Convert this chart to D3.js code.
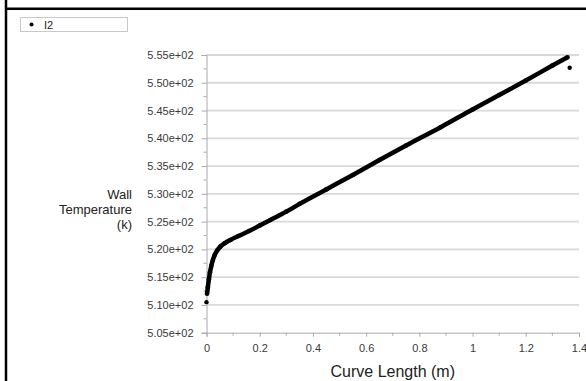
<!DOCTYPE html>
<html>
<head>
<meta charset="utf-8">
<script src="https://cdn.jsdelivr.net/npm/d3@7"></script>
<style>
  html, body { margin: 0; padding: 0; background: #fff; }
  svg { display: block; }
  text { font-family: "Liberation Sans", Arial, sans-serif; }
</style>
</head>
<body>
<svg id="chart" width="586" height="381"></svg>
<script>
// ---- data ----
const seriesName = "I2";
const curveX = [0.002, 0.005, 0.009, 0.013, 0.018, 0.024, 0.031, 0.040, 0.052, 0.068, 0.09, 0.12, 0.16, 0.20, 0.24, 0.30, 0.35, 0.45, 0.55, 0.65, 0.75, 0.88, 1.0, 1.1, 1.2, 1.3, 1.357];
const curveT = [512.0, 513.2, 514.6, 515.9, 517.0, 518.1, 519.0, 519.8, 520.5, 521.1, 521.7, 522.4, 523.3, 524.3, 525.3, 526.8, 528.2, 530.8, 533.4, 536.1, 538.7, 542.0, 545.2, 547.8, 550.4, 553.1, 554.6];
const isolatedX = [0.0, 1.365];
const isolatedT = [510.5, 552.7];
const yTicks = [505, 510, 515, 520, 525, 530, 535, 540, 545, 550, 555];
const yTickLabels = ["5.05e+02","5.10e+02","5.15e+02","5.20e+02","5.25e+02","5.30e+02","5.35e+02","5.40e+02","5.45e+02","5.50e+02","5.55e+02"];
const xTicks = [0, 0.2, 0.4, 0.6, 0.8, 1, 1.2, 1.4];
const xTickLabels = ["0","0.2","0.4","0.6","0.8","1","1.2","1.4"];
const xMinorTicks = [0.1, 0.3, 0.5, 0.7, 0.9, 1.1, 1.3];
const yMinorTicks = [507.5, 512.5, 517.5, 522.5, 527.5, 532.5, 537.5, 542.5, 547.5, 552.5];
const xTitle = "Curve Length (m)";
const yTitleLines = ["Wall", "Temperature", "(k)"];

// ---- drawing ----
const svg = d3.select("#chart");
const x = d3.scaleLinear().domain([0, 1.4]).range([206.5, 579]);
const y = d3.scaleLinear().domain([505, 555]).range([332.7, 55]);

// frame
svg.append("line").attr("x1", 6).attr("x2", 6).attr("y1", 0).attr("y2", 381)
  .attr("stroke", "#000").attr("stroke-width", 2.5);
svg.append("line").attr("x1", 5).attr("x2", 586).attr("y1", 8.7).attr("y2", 8.7)
  .attr("stroke", "#000").attr("stroke-width", 2.5);

// legend
svg.append("rect").attr("x", 20.5).attr("y", 17.5).attr("width", 107).attr("height", 14)
  .attr("fill", "#fff").attr("stroke", "#c8c8c8").attr("stroke-width", 1);
svg.append("circle").attr("cx", 31.5).attr("cy", 24.5).attr("r", 2).attr("fill", "#000");
svg.append("text").attr("x", 44).attr("y", 28.5).attr("font-size", 11).attr("fill", "#222").text(seriesName);

// gridlines
svg.append("g").selectAll("line").data(yTicks.slice(1)).join("line")
  .attr("x1", x(0)).attr("x2", x(1.4)).attr("y1", d => y(d)).attr("y2", d => y(d))
  .attr("stroke", "#d9d9d9").attr("stroke-width", 1.8);

// y axis
const yAxis = d3.axisLeft(y).tickValues(yTicks).tickFormat((d, i) => yTickLabels[i]).tickSize(5).tickPadding(8);
const gy = svg.append("g").attr("transform", `translate(${x(0)},0)`).call(yAxis);
gy.select(".domain").attr("stroke", "#aaa");
gy.selectAll(".tick line").attr("stroke", "#aaa");
gy.selectAll(".tick text").attr("font-size", 11).attr("fill", "#3a3a3a").attr("font-family", "Liberation Sans, Arial, sans-serif");
svg.append("g").selectAll("line").data(yMinorTicks).join("line")
  .attr("x1", x(0) - 3).attr("x2", x(0)).attr("y1", d => y(d)).attr("y2", d => y(d))
  .attr("stroke", "#aaa");

// x axis
const xAxis = d3.axisBottom(x).tickValues(xTicks).tickFormat((d, i) => xTickLabels[i]).tickSize(4).tickPadding(8);
const gx = svg.append("g").attr("transform", `translate(0,${y(505)})`).call(xAxis);
gx.select(".domain").attr("stroke", "#aaa");
gx.selectAll(".tick line").attr("stroke", "#aaa");
gx.selectAll(".tick text").attr("font-size", 11).attr("fill", "#3a3a3a").attr("font-family", "Liberation Sans, Arial, sans-serif");
svg.append("g").selectAll("line").data(xMinorTicks).join("line")
  .attr("x1", d => x(d)).attr("x2", d => x(d)).attr("y1", y(505)).attr("y2", y(505) + 3)
  .attr("stroke", "#aaa");

// titles
svg.append("text").attr("x", (x(0) + x(1.4)) / 2).attr("y", 377).attr("text-anchor", "middle")
  .attr("font-size", 16).attr("fill", "#222").text(xTitle);
const yt = svg.append("text").attr("text-anchor", "end").attr("font-size", 13).attr("fill", "#222");
yTitleLines.forEach((l, i) => {
  yt.append("tspan").attr("x", 132).attr("y", 199 + i * 15).text(l);
});

// series
const pts = curveX.map((d, i) => [d, curveT[i]]);
svg.append("path").datum(pts)
  .attr("d", d3.line().x(d => x(d[0])).y(d => y(d[1])).curve(d3.curveMonotoneX))
  .attr("fill", "none").attr("stroke", "#000").attr("stroke-width", 4.5).attr("stroke-linejoin", "round");
svg.append("g").selectAll("circle").data(pts).join("circle")
  .attr("cx", d => x(d[0])).attr("cy", d => y(d[1])).attr("r", 2.3).attr("fill", "#000");
svg.append("g").selectAll("circle").data(isolatedX.map((d, i) => [d, isolatedT[i]])).join("circle")
  .attr("cx", d => x(d[0])).attr("cy", d => y(d[1])).attr("r", 2.2).attr("fill", "#000");
</script>
</body>
</html>
